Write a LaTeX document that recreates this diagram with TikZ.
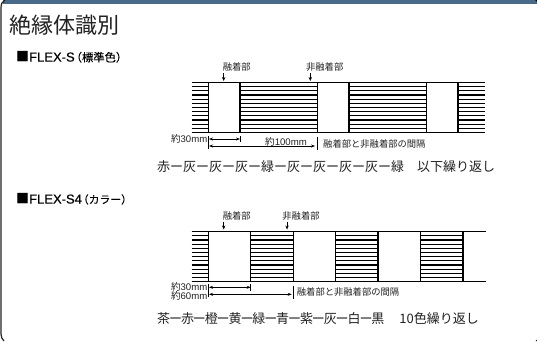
\documentclass[tikz,border=0pt]{standalone}
\usepackage{fontspec}
\setmainfont{Liberation Sans}
\newfontfamily\cjk{Noto Sans CJK JP}
\newfontfamily\hdlat{Liberation Sans}[FakeBold=0.4]
\newfontfamily\hdcjk{Noto Sans CJK JP}[FakeBold=0.15]
\definecolor{barblue}{HTML}{4A6A8A}
\definecolor{inkc}{HTML}{222222}
\newcommand{\nsep}{\kern-1.1pt ー\kern-1.1pt }
\usetikzlibrary{arrows.meta}
\tikzset{
  x=1pt,y=-1pt,
  bandline/.style={line width=1.2pt,black},
  stripe/.style={line width=1.15pt,black},
  boxline/.style={line width=1.3pt,black,fill=white},
  small/.style={font=\cjk\fontsize{9.3}{10}\selectfont,text=inkc,inner sep=0pt},
  dim/.style={font=\fontsize{9.6}{10}\selectfont,text=inkc,inner sep=0pt},
  seq/.style={font=\cjk\fontsize{13}{14}\selectfont,text=inkc,inner sep=0pt},
  head/.style={font=\hdlat\fontsize{13}{14}\selectfont,text=black,inner sep=0pt},
  leader/.style={line width=0.6pt,black,-{Stealth[length=4pt,width=3.4pt]}},
  dimarrow/.style={line width=0.6pt,black,{Stealth[length=4pt,width=3pt]}-{Stealth[length=4pt,width=3pt]}},
  tick/.style={line width=0.9pt,black}
}
\begin{document}
\begin{tikzpicture}
\useasboundingbox (0,0) rectangle (537,341);
\fill[white] (0,0) rectangle (537,341);
\fill[barblue] (3,0) rectangle (537,4.2);
\draw[line width=1.2pt,inkc] (5,0) .. controls (2,1.5) and (1,4) .. (1,8) -- (1,334) .. controls (1,337) and (2,339) .. (4,341);
\fill[black] (535,0) -- (537,0) -- (537,2) -- cycle;
\fill[black] (535.5,341) -- (537,341) -- (537,339.5) -- cycle;
\node[anchor=west,font=\cjk\fontsize{22}{24}\selectfont,text=inkc,inner sep=0pt] (title) at (9,25) {絶縁体識別};
\node[anchor=west,head] (h1) at (16,57) {{\cjk\fontsize{13}{14}\selectfont ■}FLEX-S{\hdcjk\fontsize{11.3}{12}\selectfont \kern-4pt（標準色）\kern-4pt}};
\node[anchor=west,head] (h2) at (16,199) {{\cjk\fontsize{13}{14}\selectfont ■}FLEX-S4{\hdcjk\fontsize{10.8}{12}\selectfont \kern-4pt（カラー）\kern-4pt}};
% band 1
\foreach \i in {0,...,12} \draw[stripe] (191.7,82.5+\i*4.167) -- (485,82.5+\i*4.167);
\draw[boxline] (208.7,82.5) rectangle (240,132.5);
\draw[boxline] (317.7,82.5) rectangle (349,132.5);
\draw[boxline] (426.7,82.5) rectangle (458,132.5);
\node[small] (a1) at (236.7,66.5) {融着部};
\node[small] (a2) at (324.7,66.5) {非融着部};
\coordinate (a1e) at (223.7,81);
\coordinate (a2e) at (310.3,81);
\draw[leader] (223.7,73) -- (a1e);
\draw[leader] (310.3,73) -- (a2e);
\node[anchor=east,dim] (d1) at (207.5,139) {{\cjk 約}30mm};
\coordinate (p1) at (209,139);
\coordinate (p2) at (240,139);
\coordinate (p3) at (209,146);
\coordinate (p4) at (315,146);
\draw[tick] (208.7,136) -- (208.7,149);
\draw[tick] (240,136) -- (240,142);
\draw[tick] (317.4,136.7) -- (317.4,149.5);
\draw[dimarrow] (p1) -- (p2);
\draw[dimarrow] (p3) -- (p4);
\node[dim] (d2) at (286,141.5) {{\cjk 約}100mm};
\node[anchor=west,small] (d3) at (323,144) {融着部と非融着部の間隔};
\node[anchor=west,seq] (s1) at (157,166.5) {赤ー灰ー灰ー灰ー緑ー灰ー灰ー灰ー灰ー緑　以下繰り返し};
% band 2
\foreach \xa/\xb in {191.7/208.7,250.7/293.7,335.7/378,420.3/463}
  \foreach \i in {0,...,12} \draw[stripe] (\xa,231.7+\i*4.167) -- (\xb,231.7+\i*4.167);
\draw[boxline] (208.7,231.7) rectangle (250.7,281.7);
\draw[boxline] (293.7,231.7) rectangle (335.7,281.7);
\draw[boxline] (378,231.7) rectangle (420.3,281.7);
\draw[bandline] (463,231.7) -- (463,281.7);
\draw[bandline] (191.7,231.7) -- (486,231.7);
\draw[bandline] (191.7,281.7) -- (486,281.7);
\node[small] (b1) at (236.7,215.5) {融着部};
\node[small] (b2) at (301,215.5) {非融着部};
\coordinate (b1e) at (223.7,229.5);
\coordinate (b2e) at (287,229.5);
\draw[leader] (223.7,221.5) -- (b1e);
\draw[leader] (287,221.5) -- (b2e);
\node[anchor=east,dim] (e1) at (207.5,286.7) {{\cjk 約}30mm};
\node[anchor=east,dim] (e2) at (207.5,295.7) {{\cjk 約}60mm};
\coordinate (q1) at (209,287.3);
\coordinate (q2) at (250.7,287.3);
\coordinate (q3) at (209,294.3);
\coordinate (q4) at (291.7,294.3);
\draw[tick] (208.7,284) -- (208.7,297);
\draw[tick] (250.7,284) -- (250.7,291);
\draw[tick] (293.4,285.7) -- (293.4,299.3);
\draw[dimarrow] (q1) -- (q2);
\draw[dimarrow] (q3) -- (q4);
\node[anchor=west,small] (e3) at (296.7,291.7) {融着部と非融着部の間隔};
\node[anchor=west,seq] (s2) at (157,319) {茶\nsep 赤\nsep 橙\nsep 黄\nsep 緑\nsep 青\nsep 紫\nsep 灰\nsep 白\nsep 黒　{\kern2pt}10色繰り返し};
\end{tikzpicture}
\end{document}
